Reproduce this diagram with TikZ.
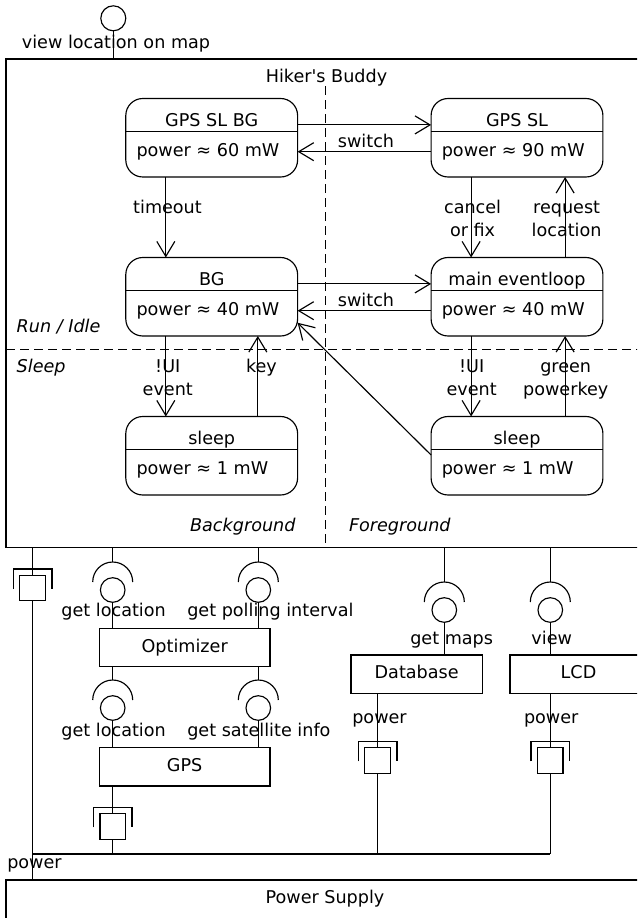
\documentclass[tikz,border=0pt]{standalone}
\usepackage{fontspec}
\setmainfont{DejaVu Sans}
\usetikzlibrary{arrows.meta}
\tikzset{
  every node/.style={font=\fontsize{17.6}{22.5}\selectfont, inner sep=0pt, outer sep=0pt},
  ln/.style={line width=1.15pt},
  arr/.style={ln, -{Straight Barb[length=15pt,width=18pt]}},
  state/.style={draw, ln, rounded corners=17pt, minimum width=171.8pt, minimum height=78.5pt},
  comp/.style={draw, ln, minimum height=38.4pt, text height=13pt, text depth=4pt},
  ball/.style={draw, ln, circle, minimum size=24.6pt},
  port/.style={draw, ln, minimum width=25.5pt, minimum height=25.3pt},
  dsh/.style={ln, dash pattern=on 9pt off 5pt},
}
\newcommand\stbox[5]{%
  \node[state] (#1) at (#2,#3) {};
  \draw[ln] ([yshift=-33.3pt]#1.north west) -- ([yshift=-33.3pt]#1.north east);
  \node[anchor=base] (#1-t) at ([yshift=-28.2pt]#1.north) {#4};
  \node[anchor=base west] (#1-p) at ([shift={(10.7pt,-57.5pt)}]#1.north west) {#5};
}
\newcommand\portsym[3]{%
  \node[port] (#1) at (#2,#3) {};
  \draw[ln] ([shift={(-6.6pt,-13.5pt)}]#1.north west) |- ([shift={(6.6pt,6.5pt)}]#1.north east) -- ++(0pt,-20pt);
}
\newcommand\sockt[3]{%
  \coordinate (#1-top) at (#2,#3);
  \draw[ln] ([xshift=20pt,yshift=-20pt]#1-top) arc[start angle=0,end angle=180,radius=20pt];
  \node[ball] (#1) at ([yshift=-28pt]#1-top) {};
}
\begin{document}
\begin{tikzpicture}[x=1pt,y=-1pt]
\useasboundingbox (0,0) rectangle (637,918);
\clip (0,0) rectangle (637,918);

% main component
\node[draw, ln, anchor=north west, minimum width=634pt, minimum height=488.5pt] (hb) at (6,59) {};
\node[anchor=base] (hb-t) at (326.5,82) {Hiker\textquotesingle s Buddy};

% provided interface on top
\node[ball, minimum size=25pt] (vl) at (113.3,18.3) {};
\draw[ln] (vl.south) -- (vl |- hb.north);
\node[anchor=base] (l-vl) at (116,48.5) {view location on map};

% partitions
\coordinate (dtop) at (325.5,86);
\draw[dsh] (dtop) -- (dtop |- hb.south);
\coordinate (dl) at (6,349.5);
\draw[dsh] (dl) -- (dl -| hb.east);
\node[anchor=base west] (l-run) at (16.7,332.7) {\itshape Run / Idle};
\node[anchor=base west] (l-sleep) at (16.7,372.7) {\itshape Sleep};
\node[anchor=base east] (l-bg) at (295.5,531.7) {\itshape Background};
\node[anchor=base west] (l-fg) at (349,531.7) {\itshape Foreground};

% states
\stbox{gpsslbg}{211.7}{137.75}{GPS SL BG}{power ≈ 60 mW}
\stbox{gpssl}{517}{137.75}{GPS SL}{power ≈ 90 mW}
\stbox{bg}{211.7}{296.75}{BG}{power ≈ 40 mW}
\stbox{mel}{517}{296.75}{main eventloop}{power ≈ 40 mW}
\stbox{lsleep}{211.7}{455.75}{sleep}{power ≈ 1 mW}
\stbox{rsleep}{517}{455.75}{sleep}{power ≈ 1 mW}

% transitions
\draw[arr] ([yshift=-26.4pt]gpsslbg.north east) -- ([yshift=-26.4pt]gpssl.north west);
\draw[arr] ([yshift=-53.2pt]gpssl.north west) -- ([yshift=-53.2pt]gpsslbg.north east);
\node[anchor=base] (sw1) at (366,147.3) {switch};
\draw[arr] ([yshift=-26.4pt]bg.north east) -- ([yshift=-26.4pt]mel.north west);
\draw[arr] ([yshift=-53.2pt]mel.north west) -- ([yshift=-53.2pt]bg.north east);
\node[anchor=base] (sw2) at (366,306.3) {switch};

\draw[arr] ([xshift=40pt]gpsslbg.south west) -- ([xshift=40pt]bg.north west);
\node[anchor=base] (l-to) at (167.5,213.5) {timeout};
\draw[arr] ([xshift=40pt]gpssl.south west) -- ([xshift=40pt]mel.north west);
\node[anchor=base] (l-cf) at (472.6,213.5) {\begin{tabular}[t]{@{}c@{}}cancel\\or fix\end{tabular}};
\draw[arr] ([xshift=134pt]mel.north west) -- ([xshift=134pt]gpssl.south west);
\node[anchor=base] (l-rl) at (566.6,213.5) {\begin{tabular}[t]{@{}c@{}}request\\location\end{tabular}};

\draw[arr] ([xshift=40pt]bg.south west) -- ([xshift=40pt]lsleep.north west);
\node[anchor=base] (l-ui1) at (167.8,372.5) {\begin{tabular}[t]{@{}c@{}}!UI\\event\end{tabular}};
\draw[arr] ([xshift=132pt]lsleep.north west) -- ([xshift=132pt]bg.south west);
\node[anchor=base] (l-key) at (261.5,372.5) {key};
\draw[arr] ([xshift=40pt]mel.south west) -- ([xshift=40pt]rsleep.north west);
\node[anchor=base] (l-ui2) at (471.7,372.5) {\begin{tabular}[t]{@{}c@{}}!UI\\event\end{tabular}};
\draw[arr] ([xshift=134pt]rsleep.north west) -- ([xshift=134pt]mel.south west);
\node[anchor=base] (l-gp) at (565.7,372.5) {\begin{tabular}[t]{@{}c@{}}green\\powerkey\end{tabular}};
\draw[arr] ([yshift=-38.5pt]rsleep.north west) -- ([yshift=-26pt]bg.east);

% components
\node[comp, minimum width=170.7pt] (opt) at (184.7,647.5) {Optimizer};
\node[comp, minimum width=170.7pt] (gps) at (184.7,766.85) {GPS};
\node[comp, minimum width=131.3pt] (db) at (416.65,674.15) {Database};
\node[comp, minimum width=137pt] (lcd) at (578.5,674.15) {LCD};
\node[draw, ln, anchor=north west, minimum width=634pt, minimum height=60pt] (ps) at (6,880) {};
\node[anchor=base] (ps-t) at (325,903) {Power Supply};

% assembly connectors
\sockt{s1}{112.7}{562}
\sockt{s2}{258.3}{562}
\sockt{s3}{112.7}{680}
\sockt{s4}{258.3}{680}
\sockt{s5}{444.3}{582}
\sockt{s6}{550.3}{582}
\draw[ln] (s1-top |- hb.south) -- (s1-top);
\draw[ln] (s2-top |- hb.south) -- (s2-top);
\draw[ln] (s5-top |- hb.south) -- (s5-top);
\draw[ln] (s6-top |- hb.south) -- (s6-top);
\draw[ln] (s3-top |- opt.south) -- (s3-top);
\draw[ln] (s4-top |- opt.south) -- (s4-top);
\draw[ln] (s1.south) -- (s1 |- opt.north);
\draw[ln] (s2.south) -- (s2 |- opt.north);
\draw[ln] (s3.south) -- (s3 |- gps.north);
\draw[ln] (s4.south) -- (s4 |- gps.north);
\draw[ln] (s5.south) -- (s5 |- db.north);
\draw[ln] (s6.south) -- (s6 |- lcd.north);
\node[anchor=base] (l-gl1) at (113.6,616.7) {get location};
\node[anchor=base west] (l-gpi) at (187.3,616.7) {get polling interval};
\node[anchor=base] (l-gl2) at (113.6,736.7) {get location};
\node[anchor=base west] (l-gsi) at (187.3,736.7) {get satellite info};
\node[anchor=base] (l-gm) at (451.7,644) {get maps};
\node[anchor=base] (l-view) at (551.7,644) {view};

% power ports
\portsym{p0}{32.6}{588.2}
\portsym{pgps}{112.7}{826.5}
\portsym{pdb}{377.6}{760.5}
\portsym{plcd}{550.3}{760.5}
\coordinate (busL) at (32.6,854);
\coordinate (busR) at (550.3,854);
\draw[ln] (p0 |- hb.south) -- (p0.north);
\draw[ln] (p0.south) -- (p0 |- ps.north);
\draw[ln] (pgps |- gps.south) -- (pgps.north);
\draw[ln] (pgps.south) -- (pgps |- busL);
\draw[ln] (pdb |- db.south) -- (pdb.north);
\draw[ln] (pdb.south) -- (pdb |- busL);
\draw[ln] (plcd |- lcd.south) -- (plcd.north);
\draw[ln] (plcd.south) -- (busR);
\draw[ln] (busL) -- (busR);
\node[anchor=base] (l-pdb) at (379.5,723.3) {power};
\node[anchor=base] (l-plcd) at (551.2,723.3) {power};
\node[anchor=base] (l-pw) at (34.5,868.3) {power};
\end{tikzpicture}
\end{document}
